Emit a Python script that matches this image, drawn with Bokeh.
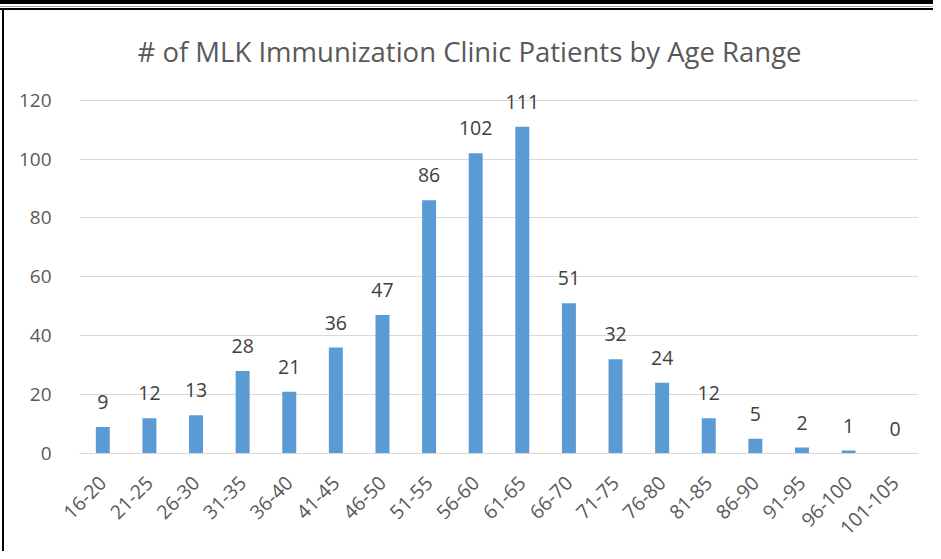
from math import pi
from bokeh.plotting import figure
from bokeh.layouts import column, row
from bokeh.models import ColumnDataSource, Range1d, LabelSet, FixedTicker, Div
from bokeh.core.properties import value
from bokeh.embed import file_html
from bokeh.resources import INLINE

age_ranges = ["16-20", "21-25", "26-30", "31-35", "36-40", "41-45", "46-50", "51-55",
              "56-60", "61-65", "66-70", "71-75", "76-80", "81-85", "86-90", "91-95",
              "96-100", "101-105"]
patients = [9, 12, 13, 28, 21, 36, 47, 86, 102, 111, 51, 32, 24, 12, 5, 2, 1, 0]
y_ticks = [0, 20, 40, 60, 80, 100, 120]
title_text = "# of MLK Immunization  Clinic Patients by Age Range"

FONT = "Open Sans"
W, H = 933, 551
TOP, LEFT = 10, 4

src = ColumnDataSource(dict(cat=age_ranges, val=patients, txt=[str(v) for v in patients]))

p = figure(x_range=age_ranges, y_range=Range1d(0, 126), width=W - LEFT, height=H - TOP,
           output_backend="svg", toolbar_location=None,
           min_border_left=79 - LEFT, min_border_right=15, min_border_top=82 - TOP,
           min_border_bottom=98)

p.vbar(x="cat", top="val", width=0.3, source=src, fill_color="#5B9BD5", line_color=None)

labels = LabelSet(x="cat", y="val", text="txt", source=src, text_align="center",
                  text_baseline="alphabetic", y_offset=18, text_font=value(FONT),
                  text_font_size="19.5px", text_color="#404040")
p.add_layout(labels)

p.title.text = title_text
p.title.align = "left"
p.title.offset = 58
p.title.text_font = FONT
p.title.text_font_size = "27.5px"
p.title.text_font_style = "normal"
p.title.text_color = "#595959"
p.title.standoff = 26

p.outline_line_color = None
p.background_fill_color = "white"
p.border_fill_color = "white"

p.xgrid.grid_line_color = None
p.ygrid.grid_line_color = "#D9D9D9"
p.ygrid.grid_line_width = 1

p.yaxis.ticker = FixedTicker(ticks=y_ticks)
p.yaxis.axis_line_color = None
p.yaxis.major_tick_line_color = None
p.yaxis.minor_tick_line_color = None
p.yaxis.major_label_standoff = 22
p.yaxis.major_label_text_font = FONT
p.yaxis.major_label_text_font_size = "19px"
p.yaxis.major_label_text_color = "#595959"

p.xaxis.axis_line_color = "#D9D9D9"
p.xaxis.axis_line_width = 1
p.xaxis.major_tick_line_color = None
p.xaxis.minor_tick_line_color = None
p.xaxis.major_label_orientation = pi / 4
p.xaxis.major_label_standoff = 20
p.xaxis.major_label_text_font = FONT
p.xaxis.major_label_text_font_size = "19.5px"
p.xaxis.major_label_text_color = "#595959"
p.x_range.range_padding = 0

# frame of the chart: thick black band, thin grey rule, black box top and left edges
top_band = Div(text="", width=W, height=TOP, margin=0,
               styles={"background": ("linear-gradient(#000,#000) 0 0/100% 4px no-repeat, "
                                      "linear-gradient(#a6a6a6,#a6a6a6) 0 6px/100% 1px no-repeat, "
                                      "linear-gradient(#000,#000) 0 8px/100% 2px no-repeat, "
                                      "#ffffff")})
left_band = Div(text="", width=LEFT, height=H - TOP, margin=0,
                styles={"background": "linear-gradient(#000,#000) 2px 0/2px 100% no-repeat, #ffffff"})

layout = column(top_band, row(left_band, p, spacing=0), spacing=0)

open("out.html", "w").write(file_html(layout, INLINE))
